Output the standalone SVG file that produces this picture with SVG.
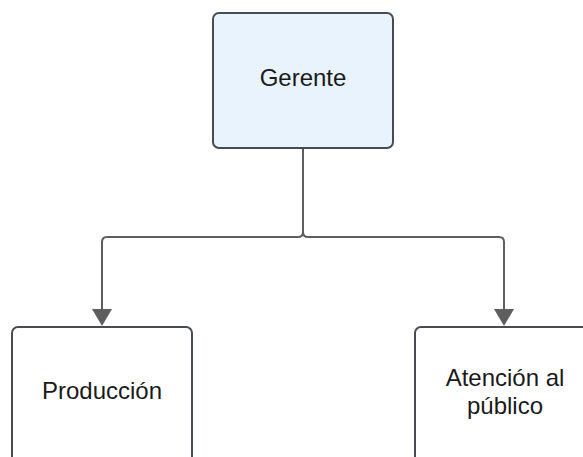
<svg xmlns="http://www.w3.org/2000/svg" width="583" height="457" viewBox="0 0 583 457">
<style>
.box{stroke:#464c54;stroke-width:2}
.lbl{font-family:"Liberation Sans",Arial,sans-serif;font-size:24px;fill:#1a1a1a;text-anchor:middle}
.con{fill:none;stroke:#5e5e5e;stroke-width:2}
.head{fill:#5e5e5e}
</style>
<rect width="583" height="457" fill="#ffffff"/>
<g id="connectors">
<path class="con" d="M303,149 V232 Q303,237 298,237 H107 Q102,237 102,242 V310"/>
<path class="con" d="M303,149 V232 Q303,237 308,237 H499 Q504,237 504,242 V310"/>
<polygon class="head" points="92,309 112,309 102,326"/>
<polygon class="head" points="494,309 514,309 504,326"/>
</g>
<g id="gerente">
<rect class="box" x="213" y="13" width="180" height="135" rx="6" fill="#e9f3fe"/>
<text class="lbl" x="303" y="86">Gerente</text>
</g>
<g id="produccion">
<rect class="box" x="12" y="327" width="180" height="150" rx="6" fill="#ffffff"/>
<text class="lbl" x="102" y="399">Producción</text>
</g>
<g id="atencion">
<rect class="box" x="415" y="327" width="180" height="150" rx="6" fill="#ffffff"/>
<text class="lbl" x="505" y="386">Atención al</text>
<text class="lbl" x="505" y="414">público</text>
</g>
</svg>
